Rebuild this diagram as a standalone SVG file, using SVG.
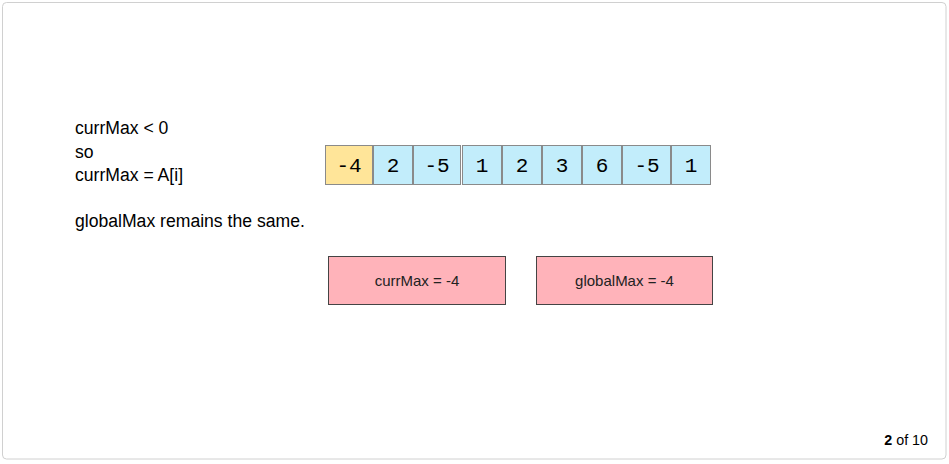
<svg xmlns="http://www.w3.org/2000/svg" width="949" height="464" viewBox="0 0 949 464">
<style>
.frame{fill:#fff;stroke:#d0d0d0;stroke-width:1}
.cell{stroke:#8a8a8a;stroke-width:1}
.y{fill:#ffe599}
.b{fill:#c2edfb}
.ct{font-family:"Liberation Mono",monospace;font-size:21px;fill:#000;text-anchor:middle}
.lt{font-family:"Liberation Sans",Arial,sans-serif;font-size:17.6px;fill:#000}
.box{fill:#ffb3ba;stroke:#444;stroke-width:1}
.bt{font-family:"Liberation Sans",Arial,sans-serif;font-size:15px;fill:#222;text-anchor:middle}
.pg{font-family:"Liberation Sans",Arial,sans-serif;font-size:14.3px;fill:#000;text-anchor:end}
</style>
<rect class="frame" x="2.5" y="2.5" width="943.5" height="456.5" rx="4"/>
<g id="explanation">
<text class="lt" x="75" y="134">currMax &lt; 0</text>
<text class="lt" x="75" y="158">so</text>
<text class="lt" x="75" y="181">currMax = A[i]</text>
<text class="lt" x="75" y="227">globalMax remains the same.</text>
</g>
<g id="array">
<g id="cell0"><rect class="cell y" x="325.5" y="145.5" width="47" height="39"/><text class="ct" x="349" y="172">-4</text></g>
<g id="cell1"><rect class="cell b" x="373.5" y="145.5" width="39" height="39"/><text class="ct" x="393" y="172">2</text></g>
<g id="cell2"><rect class="cell b" x="413.5" y="145.5" width="47" height="39"/><text class="ct" x="437" y="172">-5</text></g>
<g id="cell3"><rect class="cell b" x="462.5" y="145.5" width="39" height="39"/><text class="ct" x="482" y="172">1</text></g>
<g id="cell4"><rect class="cell b" x="502.5" y="145.5" width="39" height="39"/><text class="ct" x="522" y="172">2</text></g>
<g id="cell5"><rect class="cell b" x="542.5" y="145.5" width="39" height="39"/><text class="ct" x="562" y="172">3</text></g>
<g id="cell6"><rect class="cell b" x="582.5" y="145.5" width="39" height="39"/><text class="ct" x="602" y="172">6</text></g>
<g id="cell7"><rect class="cell b" x="622.5" y="145.5" width="48" height="39"/><text class="ct" x="647" y="172">-5</text></g>
<g id="cell8"><rect class="cell b" x="671.5" y="145.5" width="39" height="39"/><text class="ct" x="691" y="172">1</text></g>
</g>
<g id="currMaxBox"><rect class="box" x="328.5" y="256.5" width="177" height="48"/><text class="bt" x="417" y="286">currMax = -4</text></g>
<g id="globalMaxBox"><rect class="box" x="536.5" y="256.5" width="176" height="48"/><text class="bt" x="624.5" y="286">globalMax = -4</text></g>
<g id="connectors"></g>
<g id="pager"><text class="pg" x="928" y="445"><tspan font-weight="bold">2</tspan> of 10</text></g>
</svg>
